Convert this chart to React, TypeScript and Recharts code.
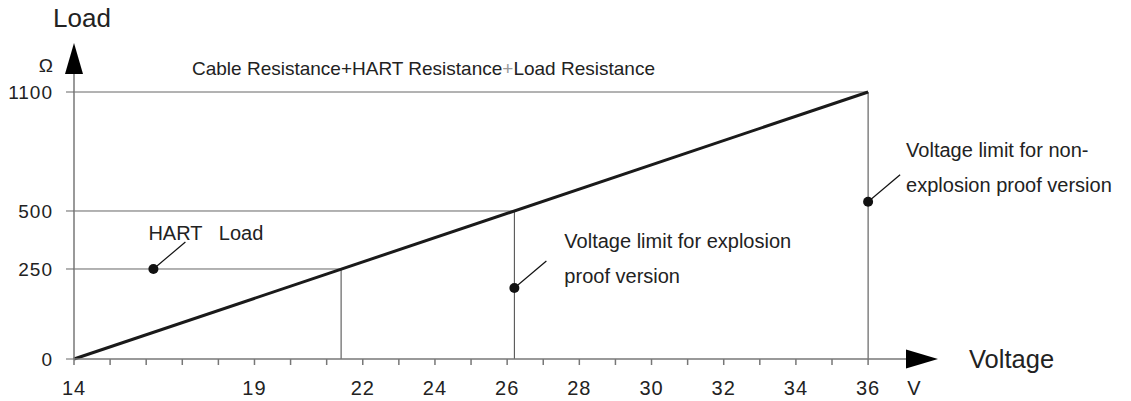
import { LineChart, Line, XAxis, YAxis, Scatter, ReferenceLine, ReferenceDot } from "recharts";

const FONT = 'Arial, "Liberation Sans", sans-serif';

// voltage axis: a tick every volt, labels only on some of them
const voltTicks = [14, 15, 16, 17, 18, 19, 20, 21, 22, 23, 24, 25, 26, 27, 28, 29, 30, 31, 32, 33, 34, 35, 36];
const voltLabels = [14, 19, 22, 24, 26, 28, 30, 32, 34, 36];
const loadTicks = [0, 250, 500, 1100];

// the load line itself
const loadLine = [
  { volt: 14, load: 0 },
  { volt: 36, load: 1100 },
];

// where the load line crosses each horizontal level
const limitVolts = [21.4, 26.2, 36];
const limitLoads = [250, 500, 1100];

// annotation dots
const noteIds = ["hart", "ex", "nonex"];
const noteVolts = [16.2, 26.2, 36];
const noteLoads = [250, 197, 547];
const noteTexts = [
  ["HART   Load"],
  ["Voltage limit for explosion", "proof version"],
  ["Voltage limit for non-", "explosion proof version"],
];

const notes = noteIds.map((id, i) => ({ id, volt: noteVolts[i], load: noteLoads[i], lines: noteTexts[i] }));

// label placement relative to its dot (px)
const noteOffset: Record<string, { dx: number; dy: number }> = {
  hart: { dx: -5, dy: -29 },
  ex: { dx: 50, dy: -40 },
  nonex: { dx: 38, dy: -45 },
};

// the load axis in the drawing is not to scale: piecewise linear mapping
const loadStops = [0, 250, 500, 1100, 1190];
const loadFracs = [0, 0.3158, 0.5193, 0.9368, 1];

function makePiecewiseScale(stops: number[], fracs: number[]): any {
  let dom = [stops[0], stops[stops.length - 1]];
  let rng = [0, 1];
  const f: any = (v: number) => {
    let i = 0;
    while (i < stops.length - 2 && v > stops[i + 1]) i++;
    const t = (v - stops[i]) / (stops[i + 1] - stops[i]);
    const fr = fracs[i] + t * (fracs[i + 1] - fracs[i]);
    return rng[0] + fr * (rng[1] - rng[0]);
  };
  f.domain = (d?: number[]) => {
    if (d === undefined) return dom.slice();
    dom = d.slice();
    return f;
  };
  f.range = (r?: number[]) => {
    if (r === undefined) return rng.slice();
    rng = r.slice();
    return f;
  };
  f.copy = () => makePiecewiseScale(stops, fracs).domain(dom).range(rng);
  f.ticks = () => stops.slice();
  f.tickFormat = () => (v: number) => String(v);
  return f;
}

const loadScale = makePiecewiseScale(loadStops, loadFracs);

const VoltTick = (props: any) => {
  const { x, y, payload } = props;
  const v = payload.value;
  return (
    <g>
      <line x1={x} x2={x} y1={y} y2={y + 6} stroke="#777" strokeWidth={1.5} />
      {voltLabels.includes(v) && (
        <text x={x} y={y + 36} textAnchor="middle" fill="#222" fontSize={20} fontFamily={FONT} letterSpacing={1}>
          {v}
        </text>
      )}
    </g>
  );
};

const NoteDot = (props: any) => {
  const { cx, cy, payload } = props;
  const off = noteOffset[payload.id];
  return (
    <g>
      <path d={`M${cx},${cy}L${cx + 32},${cy - 27}`} stroke="#111" strokeWidth={1.2} fill="none" />
      <circle cx={cx} cy={cy} r={5} fill="#111" />
      {payload.lines.map((s: string, i: number) => (
        <text
          key={i}
          x={cx + off.dx}
          y={cy + off.dy + i * 35}
          fill="#222"
          fontSize={20}
          fontFamily={FONT}
          style={{ whiteSpace: "pre" }}
        >
          {s}
        </text>
      ))}
    </g>
  );
};

const RightArrow = (props: any) => {
  const { cx, cy } = props;
  return <polygon points={`${cx},${cy - 9.5} ${cx + 32},${cy} ${cx},${cy + 9.5}`} fill="#000" />;
};

const UpArrow = (props: any) => {
  const { cx, cy } = props;
  return <polygon points={`${cx - 9},${cy} ${cx},${cy - 31} ${cx + 9},${cy}`} fill="#000" />;
};

export default function App() {
  return (
    <div style={{ position: "absolute", left: 0, top: 0, background: "#fff" }}>
      <LineChart width={1131} height={401} data={loadLine} margin={{ top: 74, right: 225, bottom: 0, left: 0 }}>
        <XAxis
          dataKey="volt"
          type="number"
          domain={[14, 37.05]}
          ticks={voltTicks}
          interval={0}
          tick={<VoltTick />}
          tickLine={false}
          tickSize={0}
          tickMargin={0}
          axisLine={{ stroke: "#777", strokeWidth: 1.5 }}
          height={42}
        />
        <YAxis
          dataKey="load"
          type="number"
          domain={[0, 1190]}
          scale={loadScale}
          ticks={loadTicks}
          interval={0}
          width={74}
          tickSize={8}
          tickMargin={13}
          tickLine={{ stroke: "#666" }}
          axisLine={{ stroke: "#777", strokeWidth: 1.5 }}
          tick={{ fill: "#222", fontSize: 19, fontFamily: FONT, letterSpacing: 1 }}
        />
        {limitLoads.map((r, i) => (
          <ReferenceLine
            key={"h" + r}
            segment={[
              { x: 14, y: r },
              { x: limitVolts[i], y: r },
            ]}
            stroke="#666"
            strokeWidth={1}
            ifOverflow="visible"
          />
        ))}
        {limitVolts.map((v, i) => (
          <ReferenceLine
            key={"v" + v}
            segment={[
              { x: v, y: 0 },
              { x: v, y: limitLoads[i] },
            ]}
            stroke="#444"
            strokeWidth={1}
            ifOverflow="visible"
          />
        ))}
        <Line type="linear" dataKey="load" stroke="#1a1a1a" strokeWidth={3} dot={false} isAnimationActive={false} />
        <Scatter data={notes} dataKey="load" shape={<NoteDot />} isAnimationActive={false} />
        <ReferenceDot x={37.05} y={0} r={0} shape={<RightArrow />} ifOverflow="visible" />
        <ReferenceDot x={14} y={1190} r={0} shape={<UpArrow />} ifOverflow="visible" />
        <text x={53} y={27} fill="#222" fontSize={26} fontFamily={FONT}>Load</text>
        <text x={53} y={72} textAnchor="end" fill="#222" fontSize={19} fontFamily={FONT}>Ω</text>
        <text x={192} y={75} fill="#222" fontSize={19} fontFamily={FONT}>
          Cable Resistance+HART Resistance<tspan fill="#999">+</tspan>Load Resistance
        </text>
        <text x={969} y={368} fill="#222" fontSize={25.5} fontFamily={FONT}>Voltage</text>
        <text x={914} y={395} textAnchor="middle" fill="#222" fontSize={20} fontFamily={FONT}>V</text>
      </LineChart>
    </div>
  );
}
